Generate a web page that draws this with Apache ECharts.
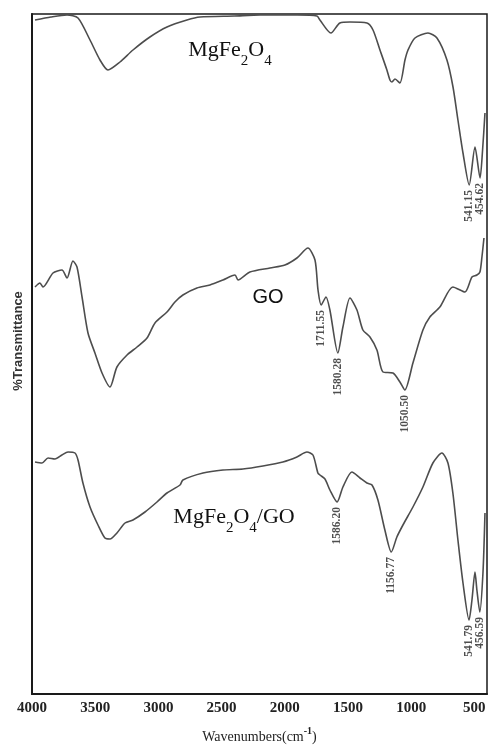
<!DOCTYPE html>
<html><head><meta charset="utf-8">
<script src="https://cdn.jsdelivr.net/npm/echarts@6/dist/echarts.min.js"></script>
<style>html,body{margin:0;padding:0;background:#fff}#c{width:489px;height:745px}</style>
</head><body><div id="c"></div>
<script>
const xTicks = [4000, 3500, 3000, 2500, 2000, 1500, 1000, 500];

const mgWave = [3976,3850,3723,3636,3541,3462,3399,3304,3201,3067,2932,2774,2671,2400,2196,1900,1746,1722,1635,1564,1484,1350,1302,1247,1192,1168,1152,1128,1089,1049,1025,970,867,796,717,669,630,590,541,495,455,435,416];
const mgT    = [67.4,67.7,67.9,67.6,65.4,63.4,62.4,63.2,64.4,65.7,66.7,67.4,67.7,67.8,67.9,67.9,67.8,67.4,66.1,67.1,67.2,67.1,66.4,64.4,62.4,61.4,61.2,61.5,61.1,63.4,64.4,65.6,66.1,65.6,63.4,60.7,57.4,54.1,50.9,54.7,51.6,54.4,58.1];

const goWave = [3976,3937,3913,3834,3763,3723,3676,3644,3604,3557,3502,3446,3383,3328,3248,3169,3090,3027,2932,2869,2806,2695,2592,2489,2394,2370,2276,2117,1999,1904,1817,1761,1737,1712,1674,1643,1580,1540,1484,1429,1382,1326,1271,1223,1144,1089,1050,986,907,852,773,670,575,519,480,456,440,424];
const goT    = [40.7,41.1,40.7,42.1,42.4,41.6,43.3,42.7,39.7,36.1,34.1,32.1,30.7,32.7,33.9,34.7,35.6,37.1,38.2,39.2,39.9,40.6,40.9,41.4,41.9,41.4,42.2,42.6,42.9,43.6,44.6,43.4,40.4,38.9,39.7,38.4,34.1,36.7,39.6,38.4,36.4,35.7,34.4,32.2,32.1,31.2,30.4,33.1,36.4,37.7,38.7,40.7,40.2,41.7,41.9,42.2,43.7,45.6];

const compWave = [3976,3921,3873,3818,3763,3715,3660,3636,3597,3541,3478,3423,3383,3328,3264,3201,3106,3011,2932,2829,2806,2647,2489,2331,2173,2015,1904,1825,1777,1738,1722,1682,1643,1586,1540,1469,1405,1350,1310,1263,1208,1157,1113,1065,986,907,828,757,709,670,630,590,542,519,495,480,457,432,416];
const compT    = [23.2,23.1,23.6,23.5,23.9,24.2,24.1,23.4,21.1,18.7,16.9,15.6,15.5,16.1,17.1,17.4,18.2,19.2,20.1,20.9,21.4,22.1,22.4,22.5,22.8,23.2,23.7,24.2,23.9,22.1,21.9,21.5,20.4,19.2,20.7,22.2,21.6,21.1,20.9,19.4,16.4,14.2,15.7,16.9,18.7,20.7,23.1,24.1,23.1,20.1,15.4,11.1,7.4,9.4,12.2,10.4,8.2,12.1,18.1];

const peakText = ['541.15','454.62','1711.55','1580.28','1050.50','1586.20','1156.77','541.79','456.59'];
const peakWave = [541.15, 454.62, 1711.55, 1580.28, 1050.50, 1586.20, 1156.77, 541.79, 456.59];
const peakT    = [50.9, 51.6, 38.9, 34.1, 30.4, 19.2, 14.2, 7.4, 8.2];

function pairs(xs, ys) { return xs.map((x, i) => [x, ys[i]]); }

const lineColor = '#4d4d4d';
const chart = echarts.init(document.getElementById('c'), null, {renderer: 'canvas'});
const lineSeries = (name, xs, ys) => ({
  name, type: 'line', data: pairs(xs, ys), smooth: 0.25, symbol: 'none',
  lineStyle: {color: lineColor, width: 1.6}, silent: true, z: 3
});

const option = {
  backgroundColor: '#fff',
  animation: false,
  grid: {left: 32, right: 2, top: 14, bottom: 51, show: true, borderColor: '#1a1a1a', borderWidth: 1.5,
         containLabel: false, outerBoundsMode: 'none'},
  xAxis: {
    type: 'value', min: 400, max: 4000, inverse: true,
    axisLine: {show: true, lineStyle: {color: '#1a1a1a', width: 2}},
    axisTick: {show: false},
    splitLine: {show: false},
    axisLabel: {
      customValues: xTicks, margin: 7, formatter: v => String(v),
      fontFamily: 'Liberation Serif', fontWeight: 'bold', fontSize: 15, color: '#222'
    },
    name: '{a|Wavenumbers(cm}{s|-1}{a|)}', nameLocation: 'middle', nameGap: 32,
    nameTextStyle: {
      rich: {
        a: {fontFamily: 'Liberation Serif', fontSize: 14, color: '#222', lineHeight: 18, verticalAlign: 'bottom'},
        s: {fontFamily: 'Liberation Serif', fontSize: 10, fontWeight: 'bold', color: '#222', lineHeight: 18, verticalAlign: 'top'}
      }
    }
  },
  yAxis: {
    type: 'value', min: 0, max: 68,
    axisLine: {show: true, lineStyle: {color: '#1a1a1a', width: 2}},
    axisTick: {show: false}, axisLabel: {show: false}, splitLine: {show: false}
  },
  graphic: [
    {type: 'text', x: 18, y: 341, rotation: Math.PI / 2,
     style: {text: '%Transmittance', font: 'bold 13px "Liberation Sans"', fill: '#333', align: 'center', verticalAlign: 'middle'}},
    {type: 'text', x: 230, y: 54,
     style: {text: '{a|MgFe}{s|2}{a|O}{s|4}', align: 'center', verticalAlign: 'middle',
       rich: {a: {fontFamily: 'Liberation Serif', fontSize: 22, fill: '#111', lineHeight: 30, verticalAlign: 'top'},
              s: {fontFamily: 'Liberation Serif', fontSize: 15, fill: '#111', lineHeight: 30, verticalAlign: 'bottom'}}}},
    {type: 'text', x: 268, y: 297,
     style: {text: 'GO', font: '20px "Liberation Sans"', fill: '#111', align: 'center', verticalAlign: 'middle'}},
    {type: 'text', x: 234, y: 521,
     style: {text: '{a|MgFe}{s|2}{a|O}{s|4}{a|/GO}', align: 'center', verticalAlign: 'middle',
       rich: {a: {fontFamily: 'Liberation Serif', fontSize: 22, fill: '#111', lineHeight: 30, verticalAlign: 'top'},
              s: {fontFamily: 'Liberation Serif', fontSize: 15, fill: '#111', lineHeight: 30, verticalAlign: 'bottom'}}}}
  ],
  series: [
    lineSeries('MgFe2O4', mgWave, mgT),
    lineSeries('GO', goWave, goT),
    lineSeries('MgFe2O4/GO', compWave, compT),
    {
      type: 'scatter', symbolSize: 0, silent: true, z: 4,
      data: peakWave.map((w, i) => ({value: [w, peakT[i]], name: peakText[i]})),
      label: {
        show: true, position: 'bottom', distance: 5, rotate: 90,
        align: 'right', verticalAlign: 'middle',
        formatter: p => p.name,
        fontFamily: 'Liberation Serif', fontWeight: 'bold', fontSize: 11.5, color: '#222'
      }
    }
  ]
};
chart.setOption(option);
</script>
</body></html>
